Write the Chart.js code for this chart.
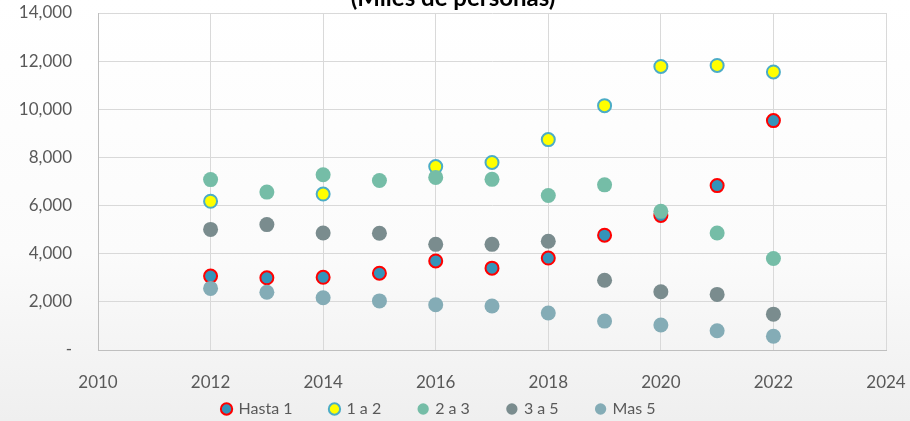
<!DOCTYPE html>
<html>
<head>
<meta charset="utf-8">
<script src="https://cdn.jsdelivr.net/npm/chart.js@4"></script>
<style>
  html, body { margin:0; padding:0; width:910px; height:421px; overflow:hidden; }
  body { background: linear-gradient(#ffffff 0%, #fbfbfb 60%, #efefef 100%); position:relative; }
  #wrap { position:absolute; left:0; top:-14px; width:910px; height:435px; }
</style>
</head>
<body>
<div id="wrap"><canvas id="grafico"></canvas></div>
<script>
// años y series (miles de personas)
const anios = [2012, 2013, 2014, 2015, 2016, 2017, 2018, 2019, 2020, 2021, 2022];
const hasta1 = [3070, 3000, 3020, 3190, 3700, 3400, 3820, 4770, 5590, 6830, 9530];
const de1a2  = [6180, null, 6480, null, 7620, 7790, 8740, 10150, 11780, 11820, 11550];
const de2a3  = [7080, 6560, 7280, 7040, 7170, 7090, 6420, 6860, 5760, 4860, 3800];
const de3a5  = [5010, 5210, 4860, 4850, 4390, 4390, 4520, 2900, 2420, 2310, 1490];
const mas5   = [2560, 2400, 2170, 2040, 1880, 1830, 1540, 1200, 1040, 800, 570];

const nombres = ["Hasta 1", "1 a 2", "2 a 3", "3 a 5", "Mas 5"];
const series = [hasta1, de1a2, de2a3, de3a5, mas5];
const rellenos = ["#3494ba", "#ffff00", "#75bda7", "#7a8c8e", "#84acb6"];
const bordes = ["#ff0000", "#4bacc6", "#75bda7", "#7a8c8e", "#84acb6"];
const anchos = [2, 2, 0, 0, 0];

const datasets = series.map((s, i) => ({
  label: nombres[i],
  data: anios.map((a, j) => ({ x: a, y: s[j] })),
  backgroundColor: rellenos[i],
  borderColor: bordes[i],
  borderWidth: anchos[i],
  pointRadius: anchos[i] ? 6.5 : 7.5,
  pointHoverRadius: 8,
  order: 5 - i
}));

const gris = "#595959";
const fuente = "Lato, 'Open Sans', sans-serif";
const altoLeyenda = 25;

// leyenda baja pero con separación horizontal amplia
const leyendaCompacta = {
  id: "leyendaCompacta",
  beforeInit(chart) {
    const lg = chart.legend;
    if (!lg) return;
    const fitOrig = lg.fit.bind(lg);
    lg.fit = function () { fitOrig(); this.height = altoLeyenda; };
  },
  afterLayout(chart) {
    const lg = chart.legend;
    if (!lg) return;
    lg.top = lg.bottom - 58;
    lg.left -= 14;
    lg.right -= 14;
  }
};

new Chart(document.getElementById("grafico"), {
  type: "scatter",
  data: { datasets },
  plugins: [leyendaCompacta],
  options: {
    responsive: true,
    maintainAspectRatio: false,
    animation: false,
    layout: { padding: { left: 0, right: 4, top: 0, bottom: 0 } },
    plugins: {
      title: {
        display: true,
        text: "(Miles de personas)",
        color: "#000",
        font: { family: fuente, size: 24, weight: "bold", lineHeight: 1 },
        padding: { top: 0, bottom: 3 }
      },
      legend: {
        position: "bottom",
        labels: {
          color: gris,
          font: { family: fuente, size: 16 },
          usePointStyle: true,
          pointStyle: "circle",
          boxWidth: 8,
          boxHeight: 8,
          padding: 38,
          sort: (a, b) => a.datasetIndex - b.datasetIndex
        }
      },
      tooltip: { enabled: true }
    },
    scales: {
      x: {
        type: "linear",
        min: 2010,
        max: 2024,
        ticks: { stepSize: 2, color: gris, font: { family: fuente, size: 17 }, padding: 22, callback: v => String(v) },
        grid: { color: "#d9d9d9", drawTicks: false },
        border: { color: "#bfbfbf" },
        afterFit: s => { s.height = 46; s.paddingRight = 24; }
      },
      y: {
        min: 0,
        max: 14000,
        ticks: {
          stepSize: 2000,
          color: gris,
          font: { family: fuente, size: 17 },
          padding: 26,
          callback: v => v === 0 ? "-" : v.toLocaleString("en-US")
        },
        grid: { color: "#d9d9d9", drawTicks: false },
        border: { color: "#bfbfbf" },
        afterFit: s => { s.width = 98; s.paddingTop = 0; }
      }
    }
  }
});
</script>
</body>
</html>
